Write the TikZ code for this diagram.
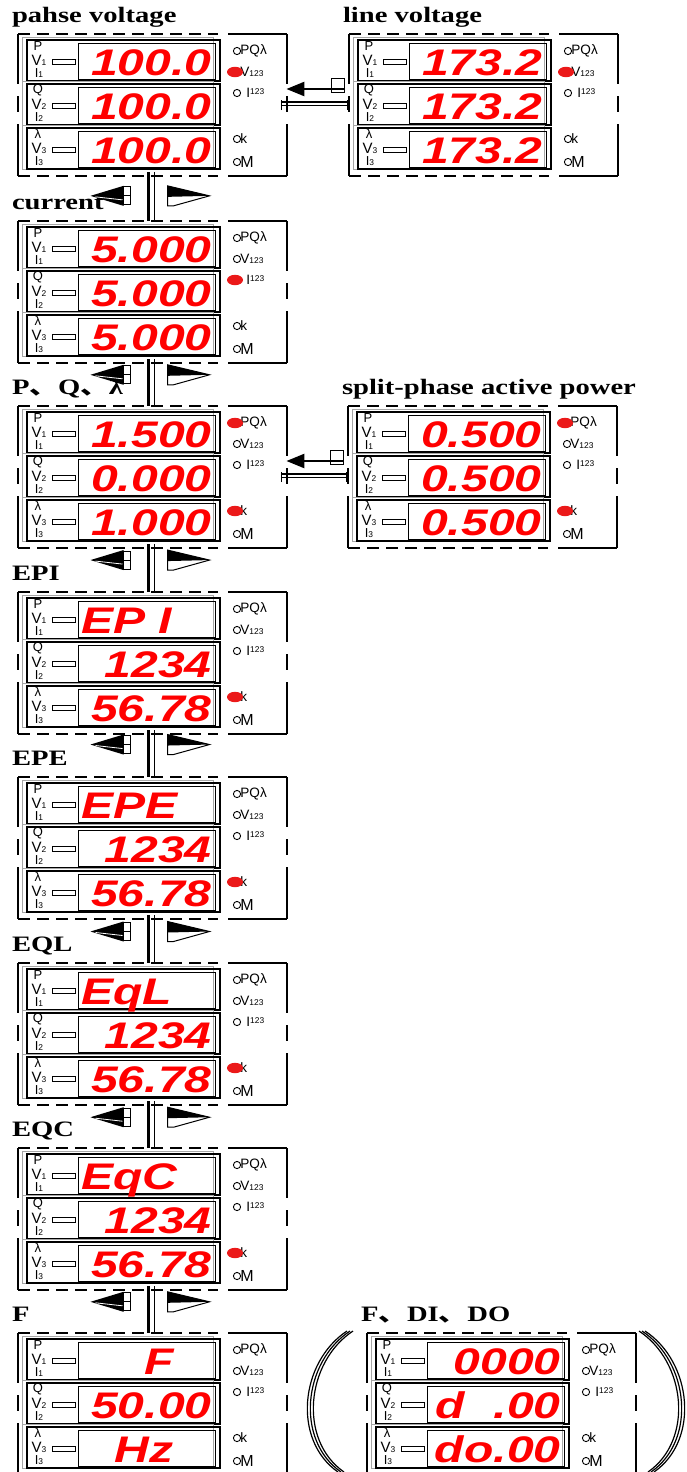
\documentclass[tikz,border=0pt]{standalone}
\usepackage{fontspec}
\usetikzlibrary{positioning, arrows.meta, calc}
\setmainfont{Liberation Sans}
\newfontfamily\headfont{Liberation Serif}
\newfontfamily\segfont{Liberation Sans}
\newfontfamily\cjk{Noto Sans CJK SC}
\definecolor{segred}{RGB}{255, 0, 0}
\definecolor{lampred}{RGB}{235, 25, 25}

\newcommand{\lowidx}[1]{{\fontsize{4.2}{5}\selectfont #1}}
\newcommand{\highidx}[1]{\raisebox{1.5pt}{\fontsize{4.2}{5}\selectfont #1}}

% one meter face: name, left x, top y (in px of the sheet)
\newcommand{\meter}[3]{%
  \begin{scope}[shift={(#2,#3)}]
    \node[panel] (#1) at (134.5,71) {};
    \draw[framedash] (0,0) -- (200,0) (0,142) -- (200,142);
    \draw[frame] (210,0) -- (269,0) (210,142) -- (269,142);
    \draw[frame] (0,0) -- (0,50) (0,90) -- (0,142) (269,0) -- (269,50) (269,90) -- (269,142);
    \draw[frame] (0,62) -- (0,78) (269,62) -- (269,78);
    \foreach \rw/\ry/\lb in {1/6/P, 2/50/Q, 3/94/λ} {
      \draw[ghost] (4,\ry-3) rectangle (195,\ry+41);
      \draw[rowbox] (9,\ry) rectangle (202,\ry+41);
      \draw[line width=0.5pt] (60,\ry+3) rectangle (197,\ry+39);
      \draw[line width=0.4pt] (34,\ry+19) rectangle (57,\ry+24);
      \node[rowlbl] at (20,\ry+6) {\lb};
      \node[rowlbl] at (21,\ry+20) {\fontsize{7.5}{8}\selectfont V\lowidx{\rw}};
      \node[rowlbl] at (21,\ry+33) {I\lowidx{\rw}};
      \coordinate (#1-r\rw-e) at (194,\ry+35);
      \coordinate (#1-r\rw-w) at (63,\ry+35);
    }
    \foreach \rw/\ry/\lb in {1/17/{PQλ}, 2/38/{V\lowidx{123}}, 3/59/{\hspace{3pt}I\highidx{123}}, 4/105/{k}, 5/128/{\fontsize{8}{9}\selectfont M}} {
      \draw[line width=0.45pt] (219,\ry) circle (1.8pt);
      \node[lamptxt] at (222,\ry) {\lb};
      \coordinate (#1-l\rw) at (217,\ry);
    }
  \end{scope}}

\newcommand{\reading}[3][east]{\node[segtext, anchor=base #1] at (#2) {\scalebox{1.3}[1]{#3}};}
\newcommand{\lamp}[1]{\fill[lampon] (#1) ellipse [x radius=4pt, y radius=2.6pt];}

\begin{document}
\begin{tikzpicture}[x=0.5pt, y=-0.5pt,
    panel/.style={minimum width=134.5pt, minimum height=71pt, inner sep=0pt},
    frame/.style={line width=0.6pt},
    framedash/.style={line width=0.6pt, dash pattern=on 6pt off 3.5pt},
    ghost/.style={draw=black!35, line width=0.4pt},
    rowbox/.style={line width=1.1pt},
    rowlbl/.style={font=\fontsize{6.5}{7}\selectfont, inner sep=0pt},
    lamptxt/.style={font=\fontsize{6.8}{7.5}\selectfont, inner sep=0pt, anchor=west},
    lampon/.style={fill=lampred},
    segtext/.style={font=\segfont\bfseries\itshape\fontsize{18.5}{20}\selectfont, text=segred, inner sep=0pt},
    head/.style={font=\headfont\bfseries\fontsize{11}{12}\selectfont, inner sep=0pt, anchor=base west},
    bus/.style={line width=1.4pt},
    feed/.style={line width=1.2pt, -{Triangle[length=9pt, width=7pt]}},
    rail/.style={line width=1.2pt},
    arcline/.style={line width=0.6pt},
    keys/.pic={
      \fill (-62,0) -- (-29,-10) -- (-29,10) -- cycle;
      \draw[white, line width=0.4pt] (-57,1) -- (-30,4);
      \draw[line width=0.5pt, fill=white] (-29,-9) rectangle (-22,9);
      \draw[line width=0.5pt] (-29,0) -- (-22,0);
      \draw[line width=0.5pt, fill=white] (15,-10) -- (57,0) -- (21,10) -- (15,10) -- cycle;
      \fill (15,-10) -- (57,0) -- (15,1) -- cycle;
    }
  ]
  \useasboundingbox (0,0) rectangle (686,1472);

  % meter faces
  \meter{phv}{18}{34}
  \meter{lnv}{349}{34}
  \meter{cur}{18}{221}
  \meter{pql}{18}{406}
  \meter{spp}{348}{406}
  \meter{epi}{18}{592}
  \meter{epe}{18}{777}
  \meter{eql}{18}{963}
  \meter{eqc}{18}{1148}
  \meter{frq}{18}{1333}
  \meter{fdd}{367}{1333}

  % titles
  \foreach \m/\t in {phv/pahse voltage, lnv/line voltage, cur/current,
      pql/{P{\cjk 、}Q{\cjk 、}λ}, spp/split-phase active power, epi/EPI, epe/EPE,
      eql/EQL, eqc/EQC, frq/F, fdd/{F{\cjk 、}DI{\cjk 、}DO}}
    \node[head] (h\m) at ([shift={(-6,-11)}]\m.north west) {\scalebox{1.3}[1]{\t}};

  % readings
  \foreach \m/\v in {phv/100.0, lnv/173.2, cur/5.000, spp/0.500}
    \foreach \r in {1,2,3} {\reading{\m-r\r-e}{\v}}
  \reading{pql-r1-e}{1.500}
  \reading{pql-r2-e}{0.000}
  \reading{pql-r3-e}{1.000}
  \foreach \m/\v in {epi/EP I, epe/EPE, eql/EqL, eqc/EqC} {
    \reading[west]{\m-r1-w}{\v}
    \reading{\m-r2-e}{1234}
    \reading{\m-r3-e}{56.78}
  }
  \reading{[xshift=-19pt]frq-r1-e}{F}
  \reading{frq-r2-e}{50.00}
  \reading{[xshift=-19pt]frq-r3-e}{Hz}
  \reading{fdd-r1-e}{0000}
  \reading{fdd-r2-e}{d\hspace{0.6em}.00}
  \reading{fdd-r3-e}{do.00}

  % lit lamps
  \foreach \l in {phv-l2, lnv-l2, cur-l3, pql-l1, pql-l4, spp-l1, spp-l4, epi-l4, epe-l4, eql-l4, eqc-l4}
    {\lamp{\l}}

  % key links down the left column
  \foreach \a/\b/\f in {phv/cur/0.44, cur/pql/0.27, pql/epi/0.27, epi/epe/0.24, epe/eql/0.28, eql/eqc/0.28, eqc/frq/0.27} {
    \draw[bus] ([shift={(-4,-4)}]\a.south) -- ([xshift=-2pt]\b.north);
    \draw[line width=0.5pt] ([shift={(2,-4)}]\a.south) -- ([xshift=1pt]\b.north);
    \pic at ($(\a.south)!\f!(\b.north)$) {keys};
  }

  % links from the right faces
  \foreach \a/\b in {lnv/phv, spp/pql} {
    \draw[line width=0.5pt, fill=white] ([shift={(-17,-27)}]\a.west) rectangle ([shift={(-4,-13)}]\a.west);
    \draw[feed] ([shift={(-4,-16)}]\a.west) -- ([shift={(-1,-16)}]\b.east);
    \draw[rail] ([shift={(-5,-3)}]\b.east) -- ([shift={(-1,-3)}]\a.west);
    \draw[line width=0.5pt, {Bar[width=5pt]}-{Bar[width=5pt]}] ([shift={(-6,0)}]\b.east) -- ([shift={(-1,0)}]\a.west);
  }

  % brackets round F, DI, DO
  \foreach \d in {0,3,6} {
    \draw[arcline] (347+\d,1331) .. controls (300+\d,1362) and (292+\d,1440) .. (338+\d,1472);
    \draw[arcline] (645-\d,1331) .. controls (692-\d,1362) and (700-\d,1440) .. (654-\d,1472);
  }
\end{tikzpicture}
\end{document}
